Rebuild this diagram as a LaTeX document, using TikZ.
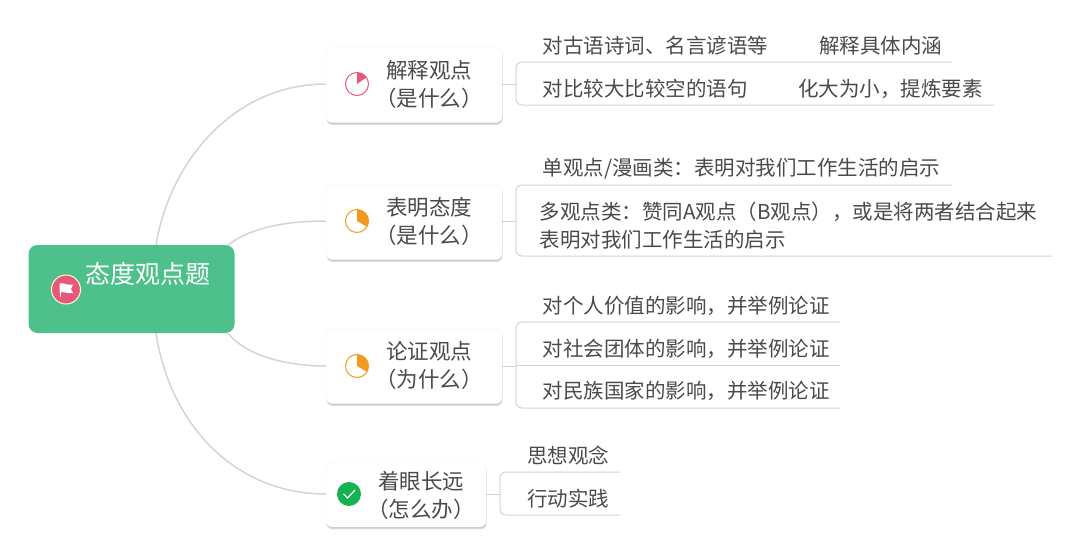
\documentclass[tikz,border=0pt]{standalone}
\usepackage{fontspec}
\setmainfont{Noto Sans CJK SC}[BoldFont={Noto Sans CJK SC}]
\usetikzlibrary{shadows,calc}
\definecolor{grn}{HTML}{4EC08C}
\definecolor{lin}{HTML}{D4D4D4}
\definecolor{txt}{HTML}{4A4A4A}
\definecolor{org}{HTML}{F29A1F}
\definecolor{pnk}{HTML}{E8587A}
\definecolor{chk}{HTML}{14B250}
\tikzset{x=1pt,y=-1pt,
 topic/.style={draw=black!4,line width=.4pt,fill=white,rounded corners=6pt,inner sep=0pt,double copy shadow={shadow xshift=0.3pt,shadow yshift=-1.2pt,fill=black!45,draw=none,opacity=.3}},
 toptext/.style={font=\fontsize{21.5}{28}\selectfont,text=txt,align=center},
 leaf/.style={font=\fontsize{20.5}{28}\selectfont,text=txt,align=left,anchor=west,inner sep=0pt},
 conn/.style={draw=lin,line width=1.5pt},
 sub/.style={draw=lin,line width=1pt},
 pie/.style={circle,draw=#1,line width=1pt,minimum size=23pt,inner sep=0pt,fill=white},
}
\begin{document}
\begin{tikzpicture}
\useasboundingbox (0,0) rectangle (1080,557);
\node[fill=white,minimum width=1080pt,minimum height=557pt,inner sep=0pt] (bg) at (540,278.5) {};
\coordinate (r1) at (156,245);
\coordinate (r2) at (228,245);
\coordinate (r3) at (228,333);
\coordinate (r4) at (156,333);
\coordinate (a1) at (326,84);
\coordinate (a2) at (326,221);
\coordinate (a3) at (326,366);
\coordinate (a4) at (326,494);
\draw[conn] (r1) .. controls (170,160) and (235,84) .. (a1);
\draw[conn] (r2) .. controls (250,228) and (285,221) .. (a2);
\draw[conn] (r3) .. controls (245,355) and (285,366) .. (a3);
\draw[conn] (r4) .. controls (170,425) and (235,494) .. (a4);
\node[fill=grn,rounded corners=9pt,minimum width=206pt,minimum height=88pt,inner sep=0pt] (root) at (131.5,289) {};
\node[font=\fontsize{25}{28}\selectfont,text=white,anchor=west,inner sep=0pt] (roott) at (85,274) {态度观点题};
\node[circle,fill=pnk,draw=white!85!yellow,line width=1pt,minimum size=29pt,inner sep=0pt] (flag) at (66,289.5) {};
\fill[white] (59.5,283.5) .. controls (63,282) and (67,286) .. (73,284.5) -- (71,289) -- (73,293) .. controls (67,294) and (63,291) .. (59.5,292.5) -- cycle;
\fill[white] (59.5,283.5) rectangle (61,297);
% second-level connectors
\coordinate (b1) at (516,84);
\coordinate (b2) at (516,221);
\coordinate (b3) at (516,366);
\coordinate (b4) at (500,494);
\draw[sub] (502,84) -- (b1);
\draw[sub] (502,221) -- (b2);
\draw[sub] (502,366) -- (b3);
\draw[sub] (486,494) -- (b4);
\draw[sub,rounded corners=6pt] (952,62) -- (516,62) -- (516,105) -- (994,105);
\draw[sub,rounded corners=6pt] (952,185) -- (516,185) -- (516,256) -- (1052,256);
\draw[sub,rounded corners=6pt] (840,322) -- (516,322) -- (516,408) -- (840,408);
\draw[sub] (516,365) -- (840,365);
\draw[sub,rounded corners=6pt] (620,472) -- (500,472) -- (500,515) -- (620,515);
% topics
\node[topic,minimum width=176pt,minimum height=75pt] (t1) at (414,85) {};
\node[topic,minimum width=176pt,minimum height=75pt] (t2) at (414,222) {};
\node[topic,minimum width=176pt,minimum height=75pt] (t3) at (414,366) {};
\node[topic,minimum width=160pt,minimum height=64pt] (t4) at (406,495) {};
\node[toptext] (t1t) at (429,84) {解释观点\\（是什么）};
\node[toptext] (t2t) at (429,221) {表明态度\\（是什么）};
\node[toptext] (t3t) at (429,365) {论证观点\\（为什么）};
\node[toptext] (t4t) at (421,495) {着眼长远\\（怎么办）};
% icons
\node[pie=pnk] (i1) at (357,84) {};
\fill[pnk] (357,84) -- (357,72.5) arc[start angle=-90,end angle=-35,radius=11.5] -- cycle;
\node[pie=org] (i2) at (357,221) {};
\fill[org] (357,221) -- (357,209.5) arc[start angle=-90,end angle=30,radius=11.5] -- cycle;
\node[pie=org] (i3) at (357,366) {};
\fill[org] (357,366) -- (357,354.5) arc[start angle=-90,end angle=30,radius=11.5] -- cycle;
\node[circle,fill=chk,minimum size=24pt,inner sep=0pt] (i4) at (349,494) {};
\draw[white,line width=1.2pt] (343.5,494) -- (347.5,498) -- (355,490);
% leaves
\node[leaf] (l11) at (542.5,46) {对古语诗词、名言谚语等};
\node[leaf] (l12) at (819,46) {解释具体内涵};
\node[leaf] (l13) at (542.5,89) {对比较大比较空的语句};
\node[leaf] (l14) at (798,89) {化大为小，提炼要素};
\node[leaf] (l21) at (542.5,169) {单观点/漫画类：表明对我们工作生活的启示};
\node[leaf] (l22) at (539.5,226) {多观点类：赞同A观点（B观点），或是将两者结合起来\\表明对我们工作生活的启示};
\node[leaf] (l31) at (542.5,306) {对个人价值的影响，并举例论证};
\node[leaf] (l32) at (542.5,349) {对社会团体的影响，并举例论证};
\node[leaf] (l33) at (542.5,391) {对民族国家的影响，并举例论证};
\node[leaf] (l41) at (527,456) {思想观念};
\node[leaf] (l42) at (527,499) {行动实践};
\end{tikzpicture}
\end{document}
